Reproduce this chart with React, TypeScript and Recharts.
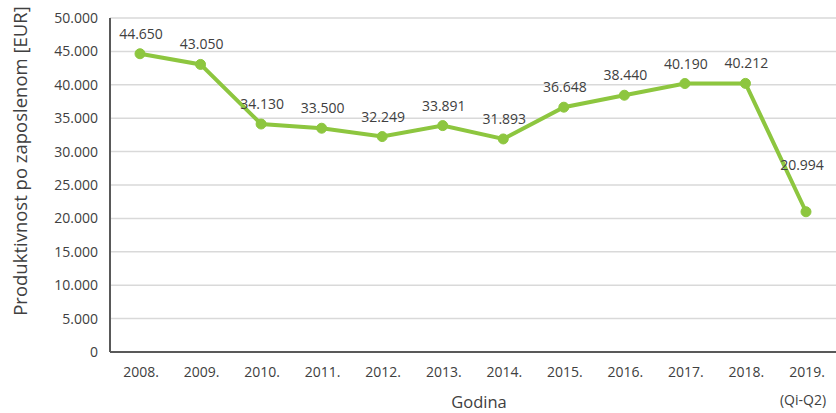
import { LineChart, Line, XAxis, YAxis, CartesianGrid, Label } from "recharts";

const years = ["2008.", "2009.", "2010.", "2011.", "2012.", "2013.", "2014.", "2015.", "2016.", "2017.", "2018.", "2019."];
const subLabels = ["", "", "", "", "", "", "", "", "", "", "", "(Qi-Q2)"];
const productivity = [44650, 43050, 34130, 33500, 32249, 33891, 31893, 36648, 38440, 40190, 40212, 20994];
const yTicks = [0, 5000, 10000, 15000, 20000, 25000, 30000, 35000, 40000, 45000, 50000];

const data = years.map((y, i) => ({ year: y, sub: subLabels[i], value: productivity[i] }));

const FONT = "'Open Sans', sans-serif";
const TEXT = "#404040";
const GREEN = "#8dc63f";

const fmt = (v: number) => (v === 0 ? "0" : v.toLocaleString("de-DE", { minimumFractionDigits: 0 }));

const XTick = ({ x, y, payload, index }: any) => {
    const sub = subLabels[index];
    return (
        <g>
            <text x={x + 1} y={y} dy={10} textAnchor="middle" fill={TEXT} fontSize={14} fontFamily={FONT}>
                {payload.value}
            </text>
            {sub && (
                <text x={x - 3} y={y} dy={38} textAnchor="middle" fill={TEXT} fontSize={14} fontFamily={FONT}>
                    {sub}
                </text>
            )}
        </g>
    );
};

const ValueLabel = ({ x, y, value, index }: any) => {
    const last = index === productivity.length - 1;
    return (
        <text
            x={last ? x - 4 : x + 1}
            y={last ? y - 42 : y - 15}
            textAnchor="middle"
            fill={TEXT}
            fontSize={14}
            fontFamily={FONT}
        >
            {fmt(value)}
        </text>
    );
};

const YTitle = ({ viewBox }: any) => {
    const cx = viewBox.x + 19;
    const cy = viewBox.y + viewBox.height / 2 - 24;
    return (
        <text x={cx} y={cy} transform={`rotate(-90, ${cx}, ${cy})`} textAnchor="middle" dominantBaseline="central"
              fill={TEXT} fontSize={18.5} fontFamily={FONT}>
            Produktivnost po zaposlenom [EUR]
        </text>
    );
};

const XTitle = ({ viewBox }: any) => (
    <text x={viewBox.x + viewBox.width / 2 + 6} y={viewBox.y + 56} textAnchor="middle"
          fill={TEXT} fontSize={16.5} fontFamily={FONT}>
        Godina
    </text>
);

export default function App() {
    return (
        <div style={{ position: "absolute", left: 0, top: 0, width: 836, height: 413, background: "#fff" }}>
            <LineChart width={836} height={413} data={data} margin={{ top: 18, right: 0, left: 0, bottom: 0 }}>
                <CartesianGrid vertical={false} stroke="#d9d9d9" strokeWidth={1.5} />
                <XAxis
                    dataKey="year"
                    height={61}
                    padding={{ left: 30, right: 30 }}
                    stroke="#595959"
                    strokeWidth={2}
                    tickLine={false}
                    tickSize={0}
                    tickMargin={15}
                    tick={<XTick />}
                    interval={0}
                >
                    <Label content={<XTitle />} />
                </XAxis>
                <YAxis
                    width={110}
                    domain={[0, 50000]}
                    ticks={yTicks}
                    tickFormatter={fmt}
                    stroke="#595959"
                    strokeWidth={2}
                    tickLine={false}
                    tickSize={0}
                    tickMargin={12}
                    tick={{ fill: TEXT, fontSize: 14, fontFamily: FONT }}
                >
                    <Label content={<YTitle />} />
                </YAxis>
                <Line
                    type="linear"
                    dataKey="value"
                    stroke={GREEN}
                    strokeWidth={4}
                    dot={{ r: 5, fill: GREEN, stroke: GREEN, strokeWidth: 1 }}
                    label={<ValueLabel />}
                    isAnimationActive={false}
                />
            </LineChart>
        </div>
    );
}
